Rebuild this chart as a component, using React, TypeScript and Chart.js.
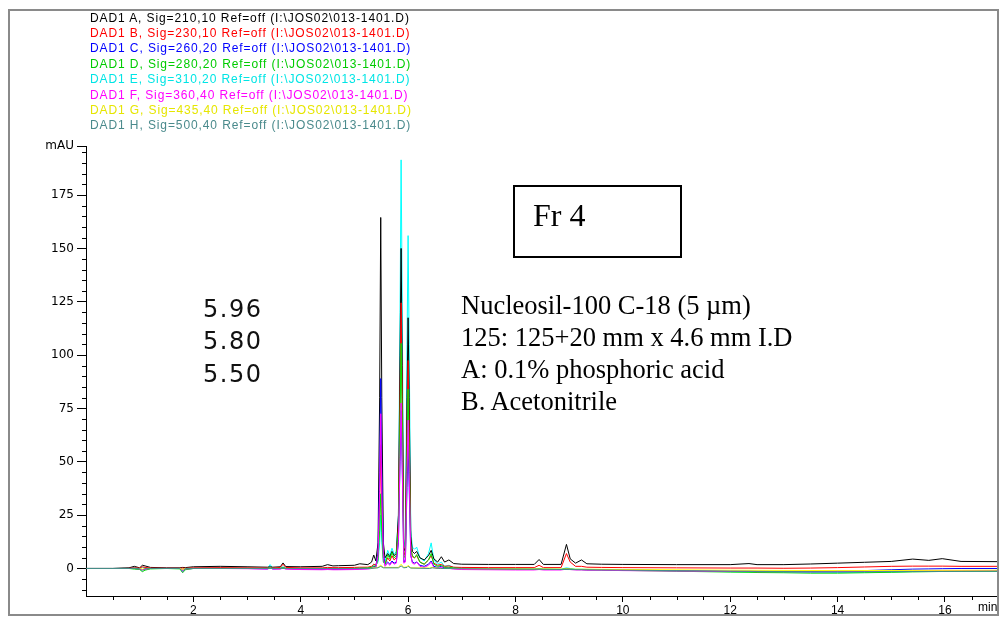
import React, { useEffect, useRef } from 'react';
import { Chart, registerables } from 'chart.js';

Chart.register(...registerables);

// ---- retention time grid (min) shared by signals A–F ----
const times = [
  0, 0.5, 0.8, 0.9, 1.0, 1.05, 1.1, 1.2, 1.5, 1.75,
  1.8, 1.85, 2.0, 2.5, 3.0, 3.38, 3.43, 3.48, 3.62, 3.67,
  3.72, 4.0, 4.4, 4.5, 4.6, 4.7, 5.0, 5.1, 5.25, 5.32,
  5.36, 5.4, 5.44, 5.47, 5.49, 5.51, 5.54, 5.57, 5.62, 5.66,
  5.7, 5.74, 5.78, 5.82, 5.85, 5.87, 5.89, 5.92, 5.95, 5.98,
  6.0, 6.02, 6.05, 6.08, 6.12, 6.16, 6.22, 6.3, 6.38, 6.43,
  6.48, 6.55, 6.62, 6.68, 6.76, 6.85, 7.0, 7.5, 8.0, 8.35,
  8.44, 8.52, 8.85, 8.95, 9.02, 9.12, 9.23, 9.33, 9.6, 10,
  11, 12, 12.35, 12.5, 13, 13.5, 14, 14.5, 15, 15.4,
  15.7, 15.95, 16.3, 16.97,
];

// DAD1 A, Sig=210,10
const sigA = [
  0, 0, 0.3, 1.0, 0.3, 1.5, 1.2, 0.5, 0.3, 0.3,
  0.5, 0.4, 0.8, 1.0, 0.8, 0.6, 0.8, 0.6, 0.8, 2.6,
  0.9, 0.8, 1.0, 1.8, 1.2, 1.3, 1.5, 2.2, 1.8, 3.0,
  6.3, 3.5, 12, 80, 164.5, 80, 12, 5, 7, 5.5,
  8, 6, 7, 25, 100, 150, 95, 8, 10, 80,
  117.5, 80, 15, 8, 7, 8, 5, 4, 6, 8.5,
  4.5, 3, 5.5, 3, 4, 2.3, 2.0, 1.9, 1.9, 1.9,
  4.2, 1.9, 1.9, 11.3, 4.5, 2.5, 4.0, 2.2, 2.0, 1.9,
  1.8, 1.8, 2.3, 1.8, 1.8, 2.1, 2.5, 2.9, 3.3, 4.4,
  3.8, 4.6, 3.3, 3.2,
];

// DAD1 B, Sig=230,10
const sigB = [
  0, 0, 0.1, 0.3, 0.2, 0.8, 0.5, 0.2, 0.1, 0.1,
  0.2, 0.1, 0.3, 0.4, 0.3, 0.2, 0.5, 0.2, 0.5, 2.0,
  0.5, 0.3, 0.3, 0.5, 0.4, 0.4, 0.5, 0.6, 0.6, 1.0,
  2.0, 1.5, 6, 30, 58, 28, 5, 2, 5, 3.5,
  6, 4, 5, 20, 82, 124.5, 80, 6, 8, 65,
  97.5, 65, 10, 5.5, 5, 6, 3, 2, 4, 6,
  2.5, 1.5, 2, 1, 1.2, 0.6, 0.5, 0.4, 0.4, 0.4,
  1.5, 0.4, 0.4, 7, 3, 1.0, 1.0, 0.6, 0.5, 0.4,
  0.3, 0.2, 0.2, 0.2, 0.1, 0.2, 0.4, 0.7, 1.0, 1.1,
  1.1, 1.1, 1.0, 1.0,
];

// DAD1 C, Sig=260,20
const sigC = [
  0, 0, 0, 0, -0.3, -0.5, -0.3, 0, 0, 0,
  -0.8, -0.3, 0, 0, 0, -0.2, 0.2, -0.2, -0.1, 0.3,
  -0.1, -0.3, -0.4, -0.3, -0.4, -0.4, -0.3, -0.2, 0, 0.3,
  1.0, 0.8, 8, 45, 89, 45, 7, 2, 3, 2,
  3.5, 2.5, 3, 12, 50, 74, 48, 3, 4, 38,
  58, 38, 6, 3, 2.5, 3, 1.5, 1, 2, 3.5,
  1, 0.5, 1, 0.2, 0.3, 0, -0.2, -0.3, -0.4, -0.4,
  -0.2, -0.5, -0.5, 0, -0.3, -0.5, -0.5, -0.6, -0.6, -0.8,
  -1.0, -1.2, -1.2, -1.3, -1.3, -1.3, -1.2, -1.0, -0.6, -0.3,
  -0.2, -0.1, 0, 0,
];

// DAD1 D, Sig=280,20
const sigD = [
  0, 0, 0, -0.3, -0.5, -1.5, -0.8, -0.2, 0, -0.2,
  -2.0, -0.6, 0, 0, 0, 0, 0.5, 0, 0, 0.5,
  0, -0.1, -0.1, 0, -0.1, -0.1, 0, 0.1, 0.2, 0.5,
  1.2, 1.0, 4, 18, 35, 17, 3, 2, 6.5, 4.5,
  7.5, 5, 6, 18, 70, 105.5, 68, 5, 6, 55,
  84, 55, 9, 6, 5, 6.5, 3, 2, 4, 7,
  2, 1, 1.5, 0.5, 0.6, 0.2, 0, -0.2, -0.3, -0.4,
  -0.2, -0.4, -0.5, 0, -0.3, -0.5, -0.5, -0.6, -0.7, -0.9,
  -1.3, -1.7, -1.8, -1.9, -2.0, -2.2, -2.2, -2.0, -1.8, -1.6,
  -1.5, -1.4, -1.3, -1.3,
];

// DAD1 E, Sig=310,20
const sigE = [
  0, 0, 0.2, 0.3, 0, 0.5, 0.2, 0, 0, 0,
  -0.5, 0, 0.1, 0.1, 0.1, 0, 1.8, 0, 0.2, 0.8,
  0.1, 0, 0, 0.2, 0, 0, 0.1, 0.3, 0.3, 0.8,
  2.0, 1.5, 3, 12, 25, 12, 3, 3, 8.5, 6,
  9.5, 6.5, 8, 25, 120, 191.5, 125, 10, 14, 105,
  156, 105, 18, 10, 9, 10, 5, 3.5, 7, 12,
  4, 2, 3, 1, 1.5, 0.5, 0.3, 0, -0.1, -0.2,
  0, -0.2, -0.3, 0.3, 0, -0.3, -0.3, -0.4, -0.5, -0.7,
  -1.1, -1.5, -1.6, -1.7, -1.8, -1.9, -1.9, -1.8, -1.6, -1.4,
  -1.3, -1.2, -1.2, -1.2,
];

// DAD1 F, Sig=360,40
const sigF = [
  0, 0, 0, 0, -0.2, -0.6, -0.3, 0, 0, 0,
  -0.8, -0.2, 0, 0, -0.1, -0.3, 0.3, -0.3, -0.3, 0.2,
  -0.3, -0.5, -0.6, -0.5, -0.6, -0.6, -0.5, -0.4, -0.3, 0,
  0.5, 0.5, 6, 36, 72.5, 35, 5, 1, 2.5, 1.5,
  3, 2, 2.5, 13, 52, 77.5, 50, 2.5, 3, 45,
  69.5, 45, 6, 2.5, 2, 3, 1, 0.5, 1.5, 3,
  0.5, 0, 0.5, 0, 0.1, -0.3, -0.5, -0.6, -0.7, -0.7,
  -0.5, -0.7, -0.7, -0.3, -0.5, -0.7, -0.7, -0.8, -0.8, -1.0,
  -1.2, -1.4, -1.4, -1.5, -1.5, -1.6, -1.5, -1.4, -1.2, -1.1,
  -1.0, -1.0, -1.0, -1.0,
];

// coarse grid for signals G and H
const timesGH = [
  0, 1.0, 1.05, 1.1, 1.75, 1.8, 1.85, 5.3, 5.44, 5.49,
  5.54, 5.82, 5.87, 5.92, 5.98, 6.0, 6.05, 6.4, 6.45, 6.6,
  9, 12, 14, 16.97,
];
// DAD1 G, Sig=435,40
const sigG = [
  0, 0, -0.3, 0, 0, -0.5, 0, 0, 0.5, 1.5,
  0.5, 0.5, 2, 0.5, 0.8, 1.5, 0.3, 0.2, 0.5, 0,
  -0.3, -0.8, -1.0, -0.8,
];
// DAD1 H, Sig=500,40
const sigH = [
  0, 0, -1.2, 0, 0, -1.8, 0, 0, 0.3, 1,
  0.3, 0.3, 1.2, 0.3, 0.5, 1, 0.2, 0, 0.3, 0,
  -0.5, -1.3, -1.6, -1.3,
];

const legendLabels = [
  'DAD1 A, Sig=210,10 Ref=off (I:\\JOS02\\013-1401.D)',
  'DAD1 B, Sig=230,10 Ref=off (I:\\JOS02\\013-1401.D)',
  'DAD1 C, Sig=260,20 Ref=off (I:\\JOS02\\013-1401.D)',
  'DAD1 D, Sig=280,20 Ref=off (I:\\JOS02\\013-1401.D)',
  'DAD1 E, Sig=310,20 Ref=off (I:\\JOS02\\013-1401.D)',
  'DAD1 F, Sig=360,40 Ref=off (I:\\JOS02\\013-1401.D)',
  'DAD1 G, Sig=435,40 Ref=off (I:\\JOS02\\013-1401.D)',
  'DAD1 H, Sig=500,40 Ref=off (I:\\JOS02\\013-1401.D)',
];
const seriesColors = ['#000000', '#ff0000', '#0000ff', '#00e000', '#00ffff', '#ff00ff', '#ffff00', '#408a8c'];
const legendTextColors = ['#000000', '#ff0000', '#0000ff', '#00cc00', '#00e5e5', '#ff00ff', '#e6e600', '#4a8a8c'];
const drawOrder = [8, 7, 6, 5, 9, 4, 3, 2];

const yMajorTicks = [0, 25, 50, 75, 100, 125, 150, 175];
const yUnitLabel = 'mAU';
const yMin = -12.9;
const yMax = 198;
const xMajorTicks = [2, 4, 6, 8, 10, 12, 14, 16];
const xMin = 0;
const xMax = 16.97;
const xUnitLabel = 'min';

const peakLabels = ['5.96', '5.80', '5.50'];
const methodLines = [
  'Nucleosil-100 C-18 (5 \u00b5m)',
  '125: 125+20 mm x 4.6 mm I.D',
  'A: 0.1% phosphoric acid',
  'B. Acetonitrile',
];
const fractionLabel = 'Fr 4';

const toPoints = (xs: number[], ys: number[]) => xs.map((x, i) => ({ x, y: ys[i] }));

const minorTicksPlugin = {
  id: 'minorTicks',
  afterDraw(chart: any) {
    const { ctx, chartArea } = chart;
    const x = chart.scales.x;
    const y = chart.scales.y;
    ctx.save();
    ctx.strokeStyle = '#000';
    ctx.lineWidth = 1;
    ctx.beginPath();
    for (let v = -10; v < yMax - 2; v += 5) {
      if (v % 25 === 0) continue;
      const py = Math.round(y.getPixelForValue(v)) + 0.5;
      ctx.moveTo(chartArea.left - 4, py);
      ctx.lineTo(chartArea.left, py);
    }
    for (let t = 0.5; t < xMax; t += 0.5) {
      if (t % 2 === 0) continue;
      const px = Math.round(x.getPixelForValue(t)) + 0.5;
      ctx.moveTo(px, chartArea.bottom);
      ctx.lineTo(px, chartArea.bottom + 4);
    }
    ctx.stroke();
    ctx.restore();
  },
};

export default function App() {
  const canvasRef = useRef<HTMLCanvasElement | null>(null);

  useEffect(() => {
    const canvas = canvasRef.current;
    if (!canvas) return;
    const sigs = [sigA, sigB, sigC, sigD, sigE, sigF];
    const datasets: any[] = sigs.map((s, i) => ({
      label: legendLabels[i],
      data: toPoints(times, s),
      borderColor: seriesColors[i],
      borderWidth: 1,
      pointRadius: 0,
      tension: 0,
      order: drawOrder[i],
    }));
    [sigG, sigH].forEach((s, j) => {
      const i = 6 + j;
      datasets.push({
        label: legendLabels[i],
        data: toPoints(timesGH, s),
        borderColor: seriesColors[i],
        borderWidth: 1,
        pointRadius: 0,
        tension: 0,
        order: drawOrder[i],
      });
    });

    const chart = new Chart(canvas, {
      type: 'line',
      data: { datasets },
      options: {
        animation: false,
        responsive: false,
        devicePixelRatio: 1,
        layout: { padding: { left: 0, top: 146, right: 2, bottom: 0 } },
        plugins: { legend: { display: false }, tooltip: { enabled: false } },
        scales: {
          x: {
            type: 'linear',
            min: xMin,
            max: xMax,
            afterBuildTicks: (scale: any) => {
              scale.ticks = xMajorTicks.map((v) => ({ value: v }));
            },
            afterFit: (scale: any) => {
              scale.height = 21;
            },
            grid: { drawOnChartArea: false, drawTicks: true, tickLength: 6, tickColor: '#000' },
            border: { display: true, color: '#000', width: 1 },
            ticks: {
              color: '#000',
              padding: 1,
              maxRotation: 0,
              autoSkip: false,
              font: { family: '"Liberation Sans", Arial, sans-serif', size: 12 },
              callback: (v: any) => String(v),
            },
          },
          y: {
            type: 'linear',
            min: yMin,
            max: yMax,
            afterBuildTicks: (scale: any) => {
              scale.ticks = [...yMajorTicks, yMax].map((v) => ({ value: v }));
            },
            afterFit: (scale: any) => {
              scale.width = 86;
            },
            grid: { drawOnChartArea: false, drawTicks: true, tickLength: 9, tickColor: '#000' },
            border: { display: true, color: '#000', width: 1 },
            ticks: {
              color: '#000',
              padding: 3,
              autoSkip: false,
              font: { family: '"DejaVu Sans", Verdana, sans-serif', size: 12 },
              callback: (v: any) => (v === yMax ? yUnitLabel : String(v)),
            },
          },
        },
      },
      plugins: [minorTicksPlugin],
    });
    return () => chart.destroy();
  }, []);

  const abs = (o: React.CSSProperties): React.CSSProperties => ({ position: 'absolute', whiteSpace: 'nowrap', margin: 0, ...o });

  return (
    <div style={{ position: 'fixed', left: 0, top: 0, width: 999, height: 617, background: '#fff', overflow: 'hidden' }}>
      <canvas ref={canvasRef} width={999} height={617} style={{ position: 'absolute', left: 0, top: 0, width: 999, height: 617 }} />
      <div style={abs({ left: 8, top: 9, width: 991, height: 607, boxSizing: 'border-box', border: '2px solid #8a8a8a', pointerEvents: 'none' })} />
      {legendLabels.map((t, i) => (
        <div
          key={t}
          style={abs({
            left: 90,
            top: 18 - 7.5 + i * 15.4,
            lineHeight: '15px',
            fontSize: 12,
            letterSpacing: '0.9px',
            fontFamily: '"Liberation Sans", Arial, sans-serif',
            color: legendTextColors[i],
          })}
        >
          {t}
        </div>
      ))}
      <div style={abs({ left: 978, top: 600, lineHeight: '14px', fontSize: 12, fontFamily: '"Liberation Sans", Arial, sans-serif', color: '#000' })}>
        {xUnitLabel}
      </div>
      {peakLabels.map((t, i) => (
        <div
          key={t}
          style={abs({
            left: 203,
            top: 308.5 - 15 + i * 32.5,
            lineHeight: '30px',
            fontSize: 24,
            letterSpacing: '1.5px',
            fontFamily: '"DejaVu Sans", Verdana, sans-serif',
            color: '#111',
          })}
        >
          {t}
        </div>
      ))}
      {methodLines.map((t, i) => (
        <div
          key={t}
          style={abs({
            left: 461,
            top: 305 - 16 + i * 32,
            lineHeight: '32px',
            fontSize: 26.5,
            fontFamily: '"Liberation Serif", "Times New Roman", serif',
            color: '#000',
          })}
        >
          {t}
        </div>
      ))}
      <div style={abs({ left: 513, top: 185, width: 169, height: 73, boxSizing: 'border-box', border: '2px solid #000' })} />
      <div style={abs({ left: 533, top: 215 - 19, lineHeight: '38px', fontSize: 32, fontFamily: '"Liberation Serif", "Times New Roman", serif', color: '#000' })}>
        {fractionLabel}
      </div>
    </div>
  );
}
